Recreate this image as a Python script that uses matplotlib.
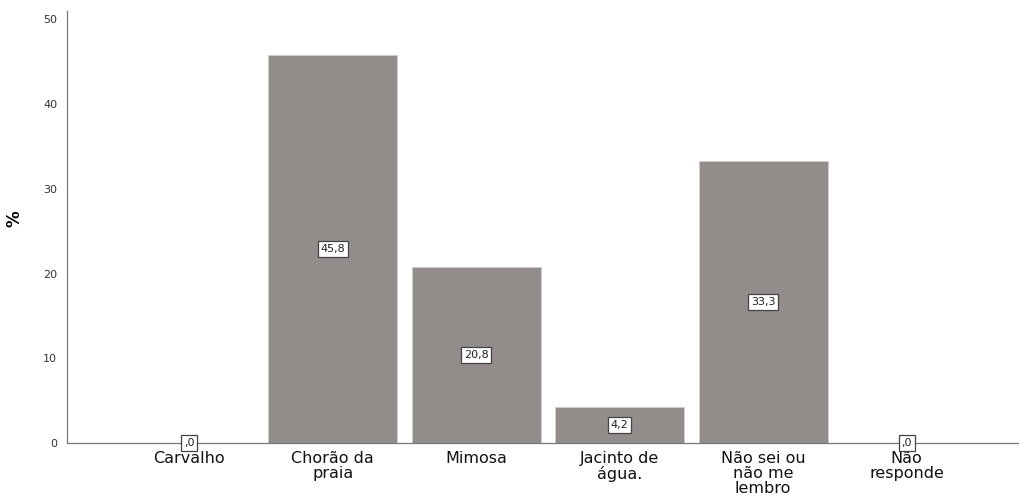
import matplotlib.pyplot as plt
import numpy as np

# respostas (percentagens)
categorias = ['Carvalho', 'Chorão da\npraia', 'Mimosa', 'Jacinto de\nágua.', 'Não sei ou\nnão me\nlembro', 'Não\nresponde']
percent = [0.0, 45.8, 20.8, 4.2, 33.3, 0.0]
rotulos = [',0', '45,8', '20,8', '4,2', '33,3', ',0']
yticks = [0, 10, 20, 30, 40, 50]

fig = plt.figure(figsize=(10.19, 5), dpi=100)
ax = fig.add_axes([0.0658, 0.114, 0.934, 0.864])

x = np.arange(len(categorias))
ax.bar(x, percent, width=0.9, color='#928d8b', edgecolor='#d0cdcb', linewidth=0.6, zorder=2)

for xi, v, r in zip(x, percent, rotulos):
    ax.text(xi, v / 2, r, ha='center', va='center', fontsize=8, color='#222222', zorder=3,
            bbox=dict(boxstyle='square,pad=0.25', facecolor='white', edgecolor='#444444', linewidth=0.9))

ax.set_xlim(-0.853, 5.782)
ax.set_ylim(0, 51)
ax.set_yticks(yticks)
ax.set_yticklabels([str(t) for t in yticks], fontsize=8, color='#333333')
ax.set_xticks(x)
ax.set_xticklabels(categorias, fontsize=11.5, color='#111111', linespacing=1.0, va='top')
ax.tick_params(axis='both', length=0)
ax.tick_params(axis='y', pad=7)
ax.tick_params(axis='x', pad=6)

ax.set_ylabel('%', fontsize=12, fontweight='bold')
ax.yaxis.set_label_coords(-0.046, 0.52)

for s in ['top', 'right']:
    ax.spines[s].set_visible(False)
for s in ['left', 'bottom']:
    ax.spines[s].set_color('#777777')
    ax.spines[s].set_linewidth(0.9)

fig.savefig('out.png', dpi=100)
